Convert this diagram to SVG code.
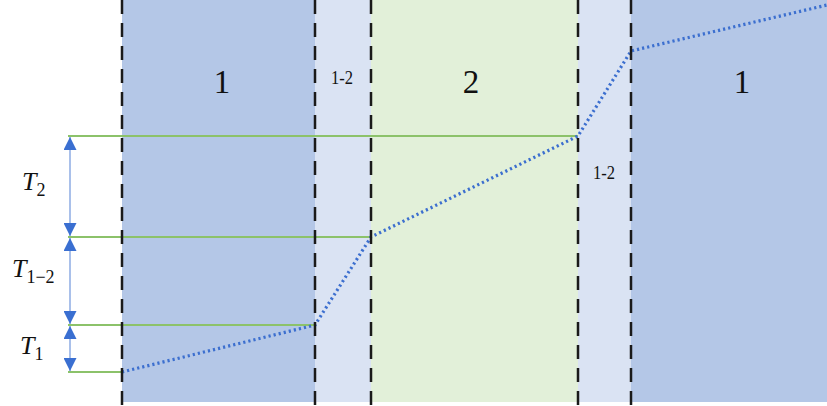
<svg xmlns="http://www.w3.org/2000/svg" width="827" height="406" viewBox="0 0 827 406">
<defs>
<style>
.dash{stroke:#1a1a1a;stroke-width:2.5;stroke-dasharray:14,9;fill:none}
.green{stroke:#8cc26a;stroke-width:1.8;fill:none}
.dot{stroke:#3c6fcf;stroke-width:3.2;stroke-dasharray:2.2,3;fill:none}
.dim{stroke:#a9c0ea;stroke-width:2;fill:none}
.lbl{font-family:"Liberation Serif",serif;fill:#111}
.t{font-family:"Liberation Serif",serif;font-style:italic;fill:#111}
</style>
<marker id="ah" viewBox="0 0 10 10" refX="10" refY="5" markerWidth="6.5" markerHeight="6.5" orient="auto-start-reverse" markerUnits="strokeWidth">
<path d="M0,0 L10,5 L0,10 z" fill="#3a6fd1"/>
</marker>
</defs>
<rect width="827" height="406" fill="#ffffff"/>
<g id="regions">
<rect x="122" y="0" width="193" height="402" fill="#b4c7e7"/>
<rect x="315" y="0" width="56" height="402" fill="#dae3f3"/>
<rect x="371" y="0" width="207" height="402" fill="#e2f0d9"/>
<rect x="578" y="0" width="53" height="402" fill="#dae3f3"/>
<rect x="631" y="0" width="196" height="402" fill="#b4c7e7"/>
</g>
<g id="labels">
<text class="lbl" x="222" y="93" font-size="33" text-anchor="middle">1</text>
<text class="lbl" x="342" y="84" font-size="18" text-anchor="middle" textLength="22" lengthAdjust="spacingAndGlyphs">1-2</text>
<text class="lbl" x="471" y="93" font-size="33" text-anchor="middle">2</text>
<text class="lbl" x="604" y="179" font-size="18" text-anchor="middle" textLength="22" lengthAdjust="spacingAndGlyphs">1-2</text>
<text class="lbl" x="742" y="93" font-size="33" text-anchor="middle">1</text>
</g>
<g id="connectors">
<line class="green" x1="68" y1="136" x2="578" y2="136"/>
<line class="green" x1="68" y1="237" x2="371" y2="237"/>
<line class="green" x1="68" y1="325" x2="315" y2="325"/>
<line class="green" x1="68" y1="372" x2="122" y2="372"/>
<polyline class="dot" points="122,372 315,325 371,237 578,136 631,51 827,5"/>
<line class="dim" x1="70" y1="137" x2="70" y2="236" marker-start="url(#ah)" marker-end="url(#ah)"/>
<line class="dim" x1="70" y1="238" x2="70" y2="324" marker-start="url(#ah)" marker-end="url(#ah)"/>
<line class="dim" x1="70" y1="326" x2="70" y2="371" marker-start="url(#ah)" marker-end="url(#ah)"/>
</g>
<g id="dashes">
<line class="dash" x1="122" y1="0" x2="122" y2="406"/>
<line class="dash" x1="315" y1="0" x2="315" y2="406"/>
<line class="dash" x1="371" y1="0" x2="371" y2="406"/>
<line class="dash" x1="578" y1="0" x2="578" y2="406"/>
<line class="dash" x1="631" y1="0" x2="631" y2="406"/>
</g>
<g id="T2"><text class="t" x="22" y="190" font-size="26">T<tspan font-size="18" dy="6" font-style="normal">2</tspan></text></g>
<g id="T12"><text class="t" x="12" y="277" font-size="26">T<tspan font-size="18" dy="6" font-style="normal">1−2</tspan></text></g>
<g id="T1"><text class="t" x="20" y="354" font-size="26">T<tspan font-size="18" dy="6" font-style="normal">1</tspan></text></g>
</svg>
